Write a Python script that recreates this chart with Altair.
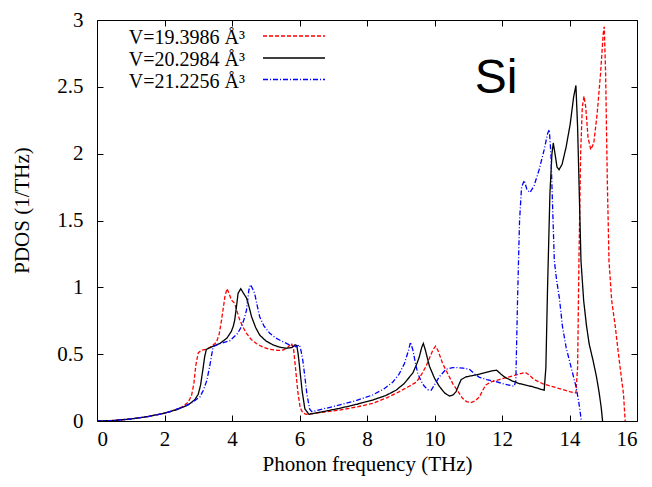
import altair as alt
import pandas as pd

# ---------------- data ----------------
series_names = ["V=19.3986 Å³", "V=20.2984 Å³", "V=21.2256 Å³"]
series_colors = ["#ff0000", "#000000", "#0000ff"]
series_dashes = [[4, 2], [1, 0], [5, 2, 1, 2]]

red_x = [0, 0.5, 1.0, 1.5, 2.0, 2.3, 2.55, 2.7, 2.8, 2.87, 2.93, 3.0, 3.1, 3.24, 3.4, 3.54, 3.62, 3.69,
         3.75, 3.79, 3.85, 3.92, 3.98, 4.08, 4.15, 4.23, 4.33, 4.43, 4.57, 4.72, 4.9, 5.12, 5.35, 5.51,
         5.65, 5.76, 5.82, 5.88, 5.95, 6.02, 6.1, 6.2, 6.6, 7.19, 7.7, 8.17, 8.6, 8.96, 9.25, 9.46,
         9.62, 9.75, 9.85, 9.95, 10.03, 10.1, 10.17, 10.24, 10.34, 10.54, 10.7, 10.83, 10.95, 11.08,
         11.2, 11.33, 11.43, 11.52, 11.7, 11.92, 12.31, 12.55, 12.69, 12.8, 12.95, 13.2, 13.5, 14.0,
         14.19, 14.24, 14.28, 14.33, 14.38, 14.43, 14.48, 14.55, 14.63, 14.72, 14.82, 14.92, 15.0,
         15.03, 15.07, 15.12, 15.17, 15.25, 15.35, 15.47, 15.55, 15.6, 15.63, 15.65]
red_y = [0, 0.004, 0.015, 0.033, 0.058, 0.08, 0.11, 0.14, 0.19, 0.28, 0.42, 0.51, 0.53, 0.536, 0.56, 0.59, 0.65, 0.755,
         0.86, 0.93, 0.99, 0.95, 0.905, 0.88, 0.82, 0.755, 0.70, 0.656, 0.61, 0.58, 0.555, 0.536, 0.528, 0.53,
         0.55, 0.58, 0.55, 0.40, 0.22, 0.10, 0.06, 0.05, 0.062, 0.082, 0.105, 0.132, 0.175, 0.22, 0.26, 0.29,
         0.35, 0.41, 0.47, 0.53, 0.56, 0.53, 0.48, 0.43, 0.38, 0.28, 0.22, 0.17, 0.145, 0.137,
         0.15, 0.18, 0.23, 0.27, 0.295, 0.31, 0.337, 0.355, 0.364, 0.345, 0.31, 0.28, 0.257, 0.22,
         0.21, 0.4, 1.2, 2.0, 2.35, 2.43, 2.35, 2.12, 2.03, 2.08, 2.3, 2.6, 2.9,
         2.95, 2.6, 1.8, 1.2, 0.9, 0.72, 0.46, 0.3, 0.2, 0.08, 0.0]

black_x = [0, 0.5, 1.0, 1.5, 2.0, 2.4, 2.7, 2.9, 3.0, 3.07, 3.14, 3.19, 3.24, 3.4, 3.64, 3.85, 3.98, 4.04,
           4.08, 4.13, 4.18, 4.26, 4.33, 4.43, 4.5, 4.58, 4.7, 4.82, 5.0, 5.21, 5.4, 5.61, 5.78, 5.87,
           5.92, 5.96, 6.0, 6.08, 6.16, 6.28, 6.7, 7.19, 7.7, 8.17, 8.55, 8.86, 9.1, 9.36, 9.48, 9.55,
           9.62, 9.67, 9.73, 9.85, 10.0, 10.14, 10.3, 10.44, 10.55, 10.64, 10.72, 10.79, 10.93, 11.23,
           11.52, 11.7, 11.84, 11.95, 12.07, 12.3, 12.51, 12.9, 13.25, 13.3, 13.35, 13.42, 13.48, 13.52,
           13.57, 13.63, 13.69, 13.78, 13.9, 14.02, 14.12, 14.19, 14.24, 14.3, 14.34, 14.42, 14.5, 14.58,
           14.7, 14.8, 14.88, 14.94, 14.98]
black_y = [0, 0.004, 0.015, 0.033, 0.058, 0.088, 0.12, 0.16, 0.2, 0.27, 0.39, 0.48, 0.536, 0.555, 0.58, 0.62, 0.67, 0.71,
           0.755, 0.85, 0.955, 0.99, 0.96, 0.92, 0.86, 0.78, 0.70, 0.643, 0.6, 0.57, 0.553, 0.544, 0.55, 0.57,
           0.565, 0.5, 0.41, 0.22, 0.09, 0.05, 0.07, 0.095, 0.125, 0.157, 0.19, 0.23, 0.28, 0.36, 0.43, 0.48,
           0.55, 0.58, 0.53, 0.41, 0.32, 0.26, 0.21, 0.187, 0.195, 0.22, 0.27, 0.31, 0.33, 0.345,
           0.364, 0.375, 0.38, 0.355, 0.33, 0.30, 0.28, 0.257, 0.23, 0.4, 1.0, 1.7, 2.0, 2.08,
           2.0, 1.9, 1.88, 1.92, 2.05, 2.22, 2.42, 2.51, 2.2, 1.6, 1.2, 0.9, 0.72, 0.58,
           0.45, 0.33, 0.21, 0.1, 0.0]

blue_x = [0, 0.5, 1.0, 1.5, 2.0, 2.5, 2.8, 3.05, 3.15, 3.25, 3.34, 3.44, 3.6, 3.93, 4.15, 4.28, 4.37, 4.43,
          4.5, 4.55, 4.61, 4.67, 4.75, 4.82, 4.95, 5.12, 5.3, 5.51, 5.7, 5.9, 6.0, 6.05, 6.1, 6.15,
          6.22, 6.3, 6.36, 6.7, 7.19, 7.7, 8.17, 8.5, 8.76, 8.95, 9.11, 9.22, 9.29, 9.36, 9.43, 9.5,
          9.6, 9.7, 9.8, 9.9, 10.0, 10.14, 10.34, 10.54, 10.64, 10.85, 11.03, 11.2, 11.33, 11.55, 11.82,
          12.1, 12.36, 12.41, 12.46, 12.52, 12.58, 12.66, 12.74, 12.83, 12.95, 13.1, 13.25, 13.35, 13.4,
          13.45, 13.5, 13.55, 13.62, 13.7, 13.79, 13.9, 14.0, 14.1, 14.19, 14.27, 14.32, 14.35]
blue_y = [0, 0.004, 0.015, 0.033, 0.058, 0.1, 0.135, 0.18, 0.23, 0.3, 0.41, 0.556, 0.575, 0.6, 0.65, 0.705, 0.77, 0.83,
          0.98, 1.02, 0.99, 0.955, 0.86, 0.78, 0.71, 0.656, 0.62, 0.593, 0.57, 0.556, 0.57, 0.52, 0.45, 0.35,
          0.2, 0.09, 0.07, 0.09, 0.12, 0.155, 0.195, 0.24, 0.29, 0.35, 0.43, 0.52, 0.59, 0.53, 0.44, 0.36,
          0.3, 0.26, 0.235, 0.23, 0.27, 0.33, 0.387, 0.40, 0.40, 0.395, 0.387, 0.35, 0.327, 0.31, 0.294,
          0.275, 0.26, 0.3, 0.9, 1.5, 1.75, 1.80, 1.73, 1.71, 1.76, 1.88, 2.03, 2.15, 2.18,
          2.0, 1.6, 1.2, 1.05, 0.92, 0.71, 0.55, 0.45, 0.35, 0.26, 0.15, 0.06, 0.0]

x_ticks = [0, 2, 4, 6, 8, 10, 12, 14, 16]
y_ticks = [0, 0.5, 1, 1.5, 2, 2.5, 3]

x_title = "Phonon frequency (THz)"
y_title = "PDOS (1/THz)"
label_text = "Si"

# ---------------- build table ----------------
rows = []
for name, xs_, ys_ in zip(series_names, [red_x, black_x, blue_x], [red_y, black_y, blue_y]):
    for i, (a, b) in enumerate(zip(xs_, ys_)):
        rows.append({"series": name, "x": a, "y": b, "i": i})
df = pd.DataFrame(rows)

serif = "Liberation Serif"
xs = alt.Scale(domain=[0, 16], nice=False, zero=False)
ys = alt.Scale(domain=[0, 3], nice=False)
color_scale = alt.Scale(domain=series_names, range=series_colors)
dash_scale = alt.Scale(domain=series_names, range=series_dashes)


def lines(xaxis, yaxis, opacity):
    return alt.Chart(df).mark_line(strokeWidth=1.3, opacity=opacity, clip=True).encode(
        x=alt.X("x:Q", scale=xs, axis=xaxis),
        y=alt.Y("y:Q", scale=ys, axis=yaxis),
        color=alt.Color("series:N", scale=color_scale, legend=None),
        strokeDash=alt.StrokeDash("series:N", scale=dash_scale, legend=None),
        order=alt.Order("i:Q"),
    )


x_label_axis = alt.Axis(orient="bottom", values=x_ticks, ticks=False, tickSize=0, domain=False, grid=False,
                        labelFont=serif, labelFontSize=21, labelColor="black", labelPadding=7,
                        title=x_title, titleFont=serif, titleFontSize=21, titleFontWeight="normal",
                        titleColor="black", titlePadding=4)
y_label_axis = alt.Axis(orient="left", values=y_ticks, format="~g", ticks=False, tickSize=0, domain=False,
                        grid=False, labelFont=serif, labelFontSize=21, labelColor="black", labelPadding=14,
                        title=y_title, titleFont=serif, titleFontSize=21, titleFontWeight="normal",
                        titleColor="black", titlePadding=24, titleY=190)


def tick_axis(orient, vals):
    return alt.Axis(orient=orient, values=vals, labels=False, domain=False, grid=False, ticks=True,
                    tickSize=6, tickColor="black", tickWidth=1, offset=-6, title=None)


main = lines(x_label_axis, y_label_axis, 1)
ticks_bl = lines(tick_axis("bottom", x_ticks), tick_axis("left", y_ticks), 0)
ticks_tr = lines(tick_axis("top", x_ticks), tick_axis("right", y_ticks), 0)

# legend (gnuplot style: text then line sample)
legend_layers = []
row_y = [16, 38, 59.5]
for name, col, dash, yy in zip(series_names, series_colors, series_dashes, row_y):
    one = pd.DataFrame({"t": [name]})
    legend_layers.append(
        alt.Chart(one).mark_text(align="right", baseline="middle", font=serif, fontSize=20, color="black")
        .encode(x=alt.value(148), y=alt.value(yy + 2), text="t:N")
    )
    legend_layers.append(
        alt.Chart(one).mark_rule(color=col, strokeDash=dash, strokeWidth=1.3)
        .encode(x=alt.value(166), x2=alt.value(228), y=alt.value(yy))
    )

si = alt.Chart(pd.DataFrame({"t": [label_text]})).mark_text(
    align="center", baseline="alphabetic", font="Liberation Sans", fontSize=48, color="black"
).encode(x=alt.value(399), y=alt.value(73), text="t:N")

chart = alt.layer(main, ticks_bl, ticks_tr, *legend_layers, si).resolve_axis(
    x="independent", y="independent"
).properties(
    width=540, height=401,
    autosize=alt.AutoSizeParams(type="none"),
    padding={"left": 89, "top": 12, "right": 3, "bottom": 57},
).configure_view(stroke="black", strokeWidth=1)

chart.save("out.html", embed_options={"renderer": "svg", "actions": False})
